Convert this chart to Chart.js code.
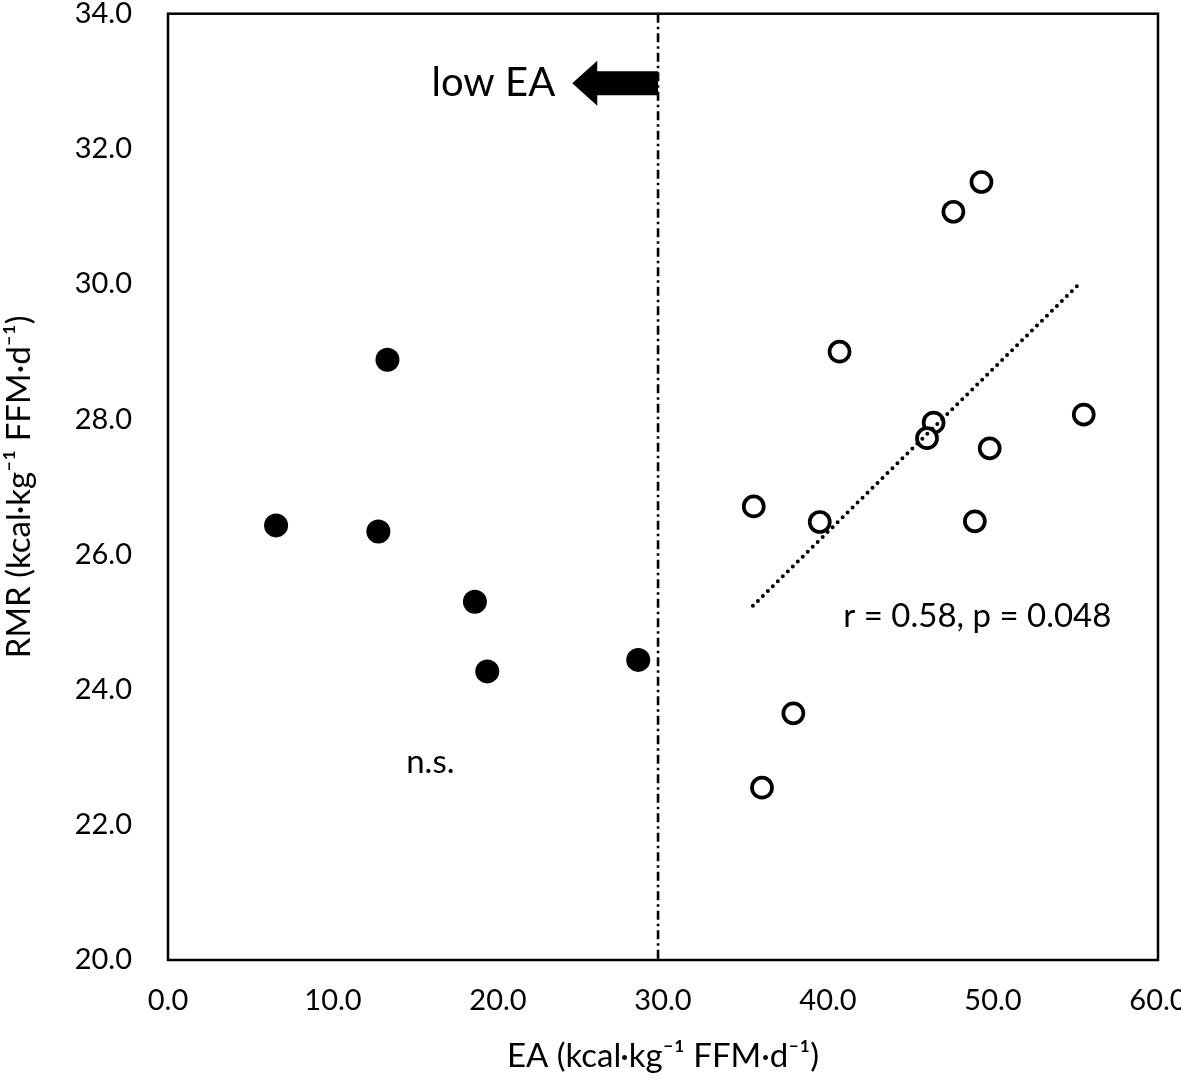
<!DOCTYPE html>
<html>
<head>
<meta charset="utf-8">
<script src="https://cdn.jsdelivr.net/npm/chart.js@4.4.1/dist/chart.umd.min.js"></script>
<style>
  html, body { margin: 0; padding: 0; background: #fff; }
  #wrap { width: 1181px; height: 1081px; }
</style>
</head>
<body>
<div id="wrap"><canvas id="c" width="1181" height="1081"></canvas></div>
<script>
// ---- data ----
const lowEA_x = [13.3, 6.55, 12.75, 18.6, 19.35, 28.5];
const lowEA_y = [28.88, 26.43, 26.34, 25.30, 24.27, 24.44];

const normEA_x = [49.3, 47.6, 40.7, 46.4, 46.0, 55.5, 49.8, 35.5, 39.5, 48.9, 37.9, 36.0];
const normEA_y = [31.51, 31.07, 29.00, 27.95, 27.72, 28.07, 27.57, 26.71, 26.48, 26.49, 23.65, 22.55];

const trend_x = [35.45, 55.3];
const trend_y = [25.24, 30.02];

const threshold_x = 29.7;

const xTicks = [0, 10, 20, 30, 40, 50, 60];
const yTicks = [20, 22, 24, 26, 28, 30, 32, 34];

const xTitle = 'EA (kcal\u00B7kg\u207B\u00B9 FFM\u00B7d\u207B\u00B9)';
const yTitle = 'RMR (kcal\u00B7kg\u207B\u00B9 FFM\u00B7d\u207B\u00B9)';

const notes = [
  { text: 'n.s.', x: 15.9, y: 22.92 },
  { text: 'r = 0.58, p = 0.048', x: 49.05, y: 25.09 }
];
const arrowLabel = { text: 'low EA', x: 19.72, y: 32.97 };
const arrow = { tipX: 24.5, tailX: 29.7, y: 32.97 };

// ---- build ----
const FONT = 'Lato, "Open Sans", sans-serif';
const toPts = (xs, ys) => xs.map((x, i) => ({ x: x, y: ys[i] }));

const overlay = {
  id: 'overlay',
  beforeDatasetsDraw(chart) {
    const { ctx, chartArea: a, scales: { x, y } } = chart;
    ctx.save();
    ctx.strokeStyle = '#000';
    ctx.lineWidth = 2.6;
    ctx.setLineDash([9, 4, 2.5, 4]);
    const px = x.getPixelForValue(threshold_x);
    ctx.beginPath();
    ctx.moveTo(px, a.top);
    ctx.lineTo(px, a.bottom);
    ctx.stroke();
    ctx.restore();
  },
  afterDatasetsDraw(chart) {
    const { ctx, chartArea: a, scales: { x, y } } = chart;
    ctx.save();
    ctx.strokeStyle = '#000';
    ctx.lineWidth = 2.5;
    ctx.strokeRect(a.left, a.top, a.right - a.left, a.bottom - a.top);

    const tip = x.getPixelForValue(arrow.tipX);
    const tail = x.getPixelForValue(arrow.tailX);
    const cy = y.getPixelForValue(arrow.y);
    const headLen = 25, headHalf = 22.5, shaftHalf = 12;
    ctx.fillStyle = '#000';
    ctx.beginPath();
    ctx.moveTo(tip, cy);
    ctx.lineTo(tip + headLen, cy - headHalf);
    ctx.lineTo(tip + headLen, cy - shaftHalf);
    ctx.lineTo(tail, cy - shaftHalf);
    ctx.lineTo(tail, cy + shaftHalf);
    ctx.lineTo(tip + headLen, cy + shaftHalf);
    ctx.lineTo(tip + headLen, cy + headHalf);
    ctx.closePath();
    ctx.fill();

    ctx.textAlign = 'center';
    ctx.textBaseline = 'middle';
    ctx.font = '40px ' + FONT;
    ctx.fillText(arrowLabel.text, x.getPixelForValue(arrowLabel.x), y.getPixelForValue(arrowLabel.y));
    ctx.font = '33px ' + FONT;
    notes.forEach(n => ctx.fillText(n.text, x.getPixelForValue(n.x), y.getPixelForValue(n.y)));
    ctx.restore();
  }
};

new Chart(document.getElementById('c'), {
  type: 'scatter',
  data: {
    datasets: [
      {
        label: 'trend',
        data: toPts(trend_x, trend_y),
        showLine: true,
        borderColor: '#000',
        borderWidth: 4,
        borderDash: [0, 7],
        borderCapStyle: 'round',
        pointRadius: 0,
        fill: false
      },
      {
        label: 'low EA',
        data: toPts(lowEA_x, lowEA_y),
        pointRadius: 12,
        pointBackgroundColor: '#000',
        pointBorderColor: '#000',
        pointBorderWidth: 0
      },
      {
        label: 'not low EA',
        data: toPts(normEA_x, normEA_y),
        pointRadius: 10,
        pointBackgroundColor: '#fff',
        pointBorderColor: '#000',
        pointBorderWidth: 3.7
      }
    ]
  },
  options: {
    responsive: false,
    animation: false,
    events: [],
    layout: { padding: { top: 11, right: 23, left: 0, bottom: 0 } },
    plugins: { legend: { display: false }, tooltip: { enabled: false } },
    scales: {
      x: {
        type: 'linear',
        min: 0, max: 60,
        afterBuildTicks: s => { s.ticks = xTicks.map(v => ({ value: v })); },
        afterFit: s => { s.height = 121; s.paddingLeft = 0; s.paddingRight = 0; },
        grid: { display: false, drawTicks: false },
        border: { display: false },
        ticks: {
          padding: 23,
          color: '#000',
          font: { family: FONT, size: 29 },
          maxRotation: 0,
          callback: v => Number(v).toFixed(1)
        },
        title: {
          display: true,
          text: xTitle,
          color: '#000',
          font: { family: FONT, size: 33 },
          padding: { top: 0, bottom: 5 }
        }
      },
      y: {
        type: 'linear',
        min: 20, max: 34,
        afterBuildTicks: s => { s.ticks = yTicks.map(v => ({ value: v })); },
        afterFit: s => { s.width = 168; s.paddingTop = 0; s.paddingBottom = 0; },
        grid: { display: false, drawTicks: false },
        border: { display: false },
        ticks: {
          padding: 36,
          color: '#000',
          font: { family: FONT, size: 29 },
          callback: v => Number(v).toFixed(1)
        },
        title: {
          display: true,
          text: yTitle,
          color: '#000',
          font: { family: FONT, size: 33 },
          padding: { top: 0, bottom: 0 }
        }
      }
    }
  },
  plugins: [overlay]
});
</script>
</body>
</html>
